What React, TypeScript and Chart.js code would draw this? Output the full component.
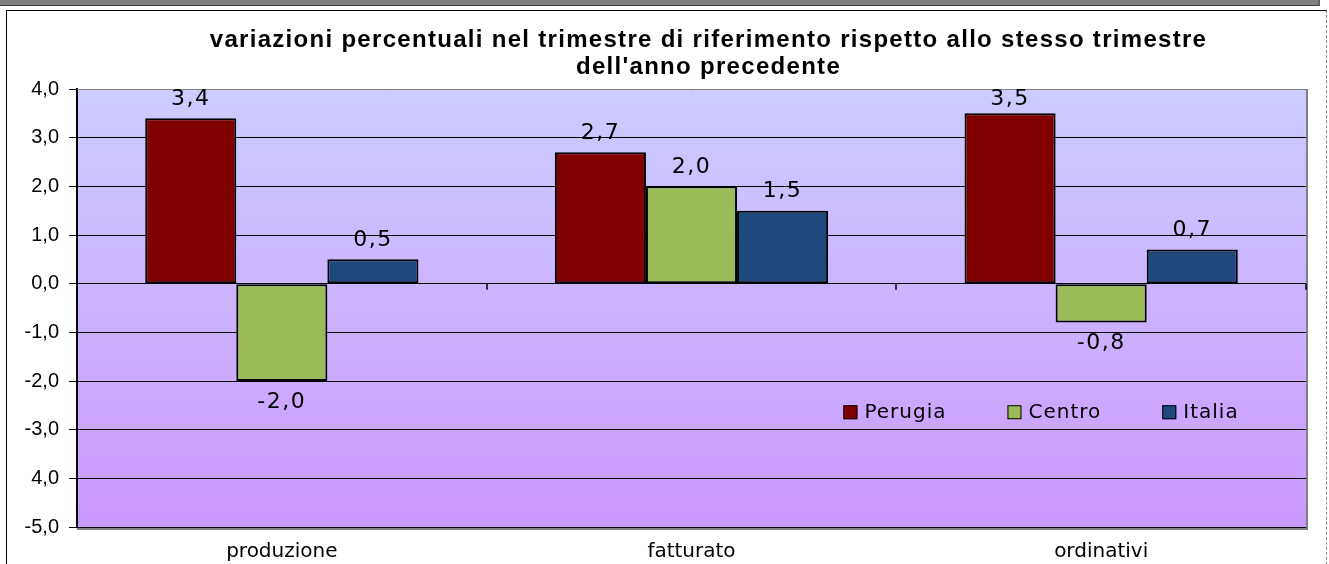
import React, { useEffect, useRef } from "react";
import { Chart, registerables } from "chart.js";

Chart.register(...registerables);

const titleLines = [
  "variazioni percentuali nel trimestre di riferimento rispetto allo stesso trimestre",
  "dell'anno precedente",
];
const categories = ["produzione", "fatturato", "ordinativi"];
const seriesNames = ["Perugia", "Centro", "Italia"];
const perugia = [3.4, 2.7, 3.5];
const centro = [-2.0, 2.0, -0.8];
const italia = [0.5, 1.5, 0.7];
const seriesColors = ["#800000", "#9BBB59", "#1F497D"];
const yMin = -5;
const yMax = 4;
const yTickLabels = ["-5,0", "4,0", "-3,0", "-2,0", "-1,0", "0,0", "1,0", "2,0", "3,0", "4,0"];

const fmt = (v: number) => v.toFixed(1).replace(".", ",");

const bgPlugin = {
  id: "plotBg",
  beforeDraw(chart: any) {
    const { ctx, chartArea: a } = chart;
    const g = ctx.createLinearGradient(0, a.top, 0, a.bottom);
    g.addColorStop(0, "#CCCCFF");
    g.addColorStop(1, "#CC99FF");
    ctx.save();
    ctx.fillStyle = g;
    ctx.fillRect(a.left, a.top, a.right - a.left, a.bottom - a.top);
    ctx.restore();
  },
};

const framePlugin = {
  id: "plotFrame",
  beforeDatasetsDraw(chart: any) {
    const { ctx, chartArea: a, scales } = chart;
    ctx.save();
    ctx.strokeStyle = "#808080";
    ctx.lineWidth = 1;
    ctx.beginPath();
    ctx.moveTo(a.left, a.top + 0.5);
    ctx.lineTo(a.right, a.top + 0.5);
    ctx.stroke();
    ctx.lineWidth = 2;
    ctx.beginPath();
    ctx.moveTo(a.right + 1, a.top);
    ctx.lineTo(a.right + 1, a.bottom + 2);
    ctx.lineTo(a.left, a.bottom + 2);
    ctx.stroke();
    const x = scales.x;
    const y0 = scales.y.getPixelForValue(0);
    const n = categories.length;
    const w = (a.right - a.left) / n;
    ctx.strokeStyle = "#000";
    ctx.lineWidth = 1.5;
    for (let i = 0; i <= n; i++) {
      const px = Math.round(x.left + i * w);
      ctx.beginPath();
      ctx.moveTo(px, y0);
      ctx.lineTo(px, y0 + 6);
      ctx.stroke();
    }
    ctx.restore();
  },
};

const titlePlugin = {
  id: "customTitle",
  afterDraw(chart: any) {
    const { ctx, chartArea: a } = chart;
    const cx = (a.left + a.right) / 2 + 17;
    ctx.save();
    ctx.fillStyle = "#000";
    ctx.font = "bold 24px 'Liberation Sans', Arial, sans-serif";
    (ctx as any).letterSpacing = "1.3px";
    ctx.textAlign = "center";
    ctx.textBaseline = "middle";
    titleLines.forEach((t, i) => ctx.fillText(t, cx, 40 + i * 27));
    ctx.restore();
  },
};

const labelPlugin = {
  id: "valueLabels",
  afterDatasetsDraw(chart: any) {
    const { ctx, chartArea: a } = chart;
    ctx.save();
    ctx.fillStyle = "#000";
    ctx.font = "22px 'DejaVu Sans', Verdana, sans-serif";
    (ctx as any).letterSpacing = "1.5px";
    ctx.textAlign = "center";
    ctx.textBaseline = "middle";
    chart.data.datasets.forEach((ds: any, di: number) => {
      const meta = chart.getDatasetMeta(di);
      meta.data.forEach((el: any, i: number) => {
        const v = ds.data[i];
        const y = v >= 0 ? Math.max(el.y - 19, a.top + 10) : el.y + 21;
        ctx.fillText(fmt(v), el.x, y);
      });
    });
    ctx.restore();
  },
};

const legendPlugin = {
  id: "innerLegend",
  afterDatasetsDraw(chart: any) {
    const { ctx, chartArea: a } = chart;
    let x = a.left + 0.6236 * (a.right - a.left);
    const y = a.top + 0.738 * (a.bottom - a.top);
    ctx.save();
    ctx.font = "20px 'DejaVu Sans', Verdana, sans-serif";
    (ctx as any).letterSpacing = "1px";
    ctx.textBaseline = "middle";
    ctx.textAlign = "left";
    chart.data.datasets.forEach((ds: any) => {
      ctx.fillStyle = ds.backgroundColor;
      ctx.fillRect(x, y - 7, 14, 14);
      ctx.strokeStyle = "#000";
      ctx.lineWidth = 1;
      ctx.strokeRect(x + 0.5, y - 6.5, 13, 13);
      ctx.fillStyle = "#000";
      ctx.fillText(ds.label, x + 21, y + 1);
      x += 21 + ctx.measureText(ds.label).width + 61;
    });
    ctx.restore();
  },
};

export default function App() {
  const ref = useRef<HTMLCanvasElement>(null);

  useEffect(() => {
    if (!ref.current) return;
    const seriesData = [perugia, centro, italia];
    const chart = new Chart(ref.current, {
      type: "bar",
      data: {
        labels: categories,
        datasets: seriesNames.map((name, i) => ({
          label: name,
          data: seriesData[i],
          backgroundColor: seriesColors[i],
          borderColor: "#000",
          borderWidth: 2,
          borderSkipped: false,
          categoryPercentage: 0.667,
          barPercentage: 1.0,
        })),
      },
      options: {
        responsive: false,
        animation: false,
        layout: { padding: { top: 89, left: 0, right: 23, bottom: 0 } },
        plugins: {
          legend: { display: false },
          title: { display: false },
          tooltip: { enabled: false },
        },
        scales: {
          x: {
            grid: { display: false, drawTicks: false },
            border: { display: false },
            ticks: {
              color: "#000",
              font: { family: "'DejaVu Sans', Verdana, sans-serif", size: 20 },
              padding: 13,
            },
            afterFit: (s: any) => {
              s.height = 37;
            },
          },
          y: {
            min: yMin,
            max: yMax,
            ticks: {
              stepSize: 1,
              color: "#000",
              font: { family: "'Liberation Sans', Arial, sans-serif", size: 20 },
              padding: 10,
              callback: (v: any) => yTickLabels[Math.round(Number(v) - yMin)],
            },
            grid: { color: "#000", lineWidth: 1, tickLength: 8, drawTicks: true },
            border: { display: true, color: "#000", width: 2 },
            afterFit: (s: any) => {
              s.width = 77;
            },
          },
        },
      },
      plugins: [bgPlugin, framePlugin, labelPlugin, legendPlugin, titlePlugin],
    } as any);
    return () => chart.destroy();
  }, []);

  return (
    <div
      style={{
        position: "absolute",
        left: 0,
        top: 0,
        width: 1329,
        height: 564,
        background: "#fff",
        overflow: "hidden",
      }}
    >
      <div
        style={{
          position: "absolute",
          left: 0,
          top: 0,
          width: 1320,
          height: 6,
          background: "#808080",
          borderBottom: "1px solid #404040",
          borderRight: "2px solid #606060",
          boxSizing: "border-box",
        }}
      />
      <div
        style={{
          position: "absolute",
          left: 6,
          top: 10,
          width: 1321,
          height: 600,
          borderTop: "1px solid #000",
          borderLeft: "1px solid #000",
          borderRight: "1px dashed #888",
          boxSizing: "border-box",
        }}
      />
      <canvas
        ref={ref}
        width={1329}
        height={564}
        style={{ position: "absolute", left: 0, top: 0, display: "block" }}
      />
    </div>
  );
}
